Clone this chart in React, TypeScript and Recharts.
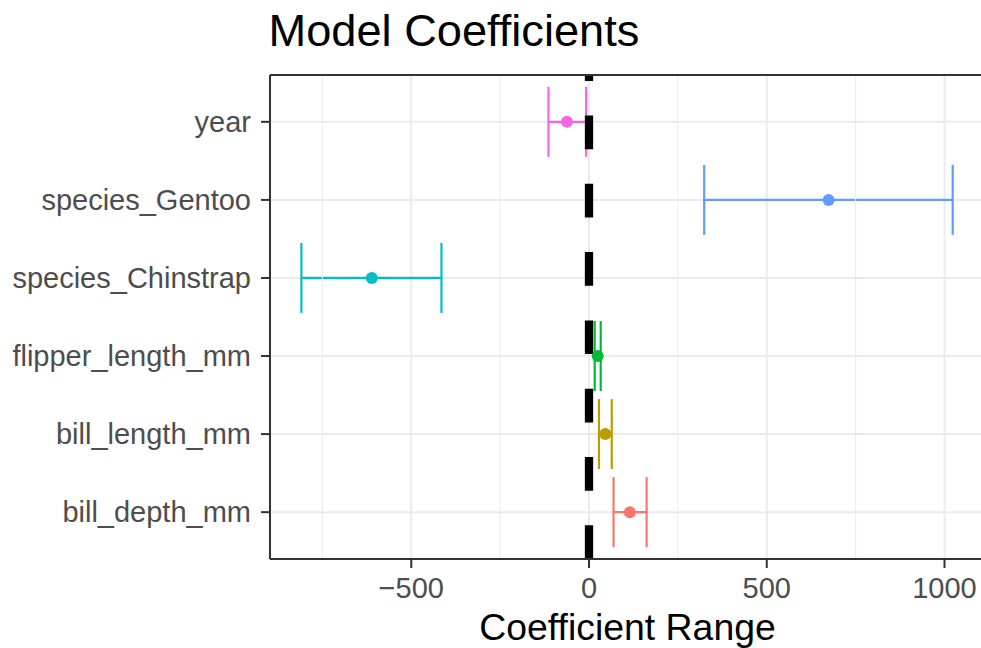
import React from 'react';
import {
  ComposedChart,
  XAxis,
  YAxis,
  CartesianGrid,
  Scatter,
  Bar,
  ReferenceLine,
  Label,
} from 'recharts';

// ---- data ----
const TERMS = [
  'year',
  'species_Gentoo',
  'species_Chinstrap',
  'flipper_length_mm',
  'bill_length_mm',
  'bill_depth_mm',
];
const ESTIMATES = [-62, 674, -611, 24.5, 46, 115];
const LOWER = [-114, 324, -809, 16, 28, 69];
const UPPER = [-8, 1023, -415, 33, 64, 162];
const X_TICKS = [-500, 0, 500, 1000];
const X_MINOR = [-750, -250, 250, 750];
const X_DOMAIN = [-897.3, 1113.9];

// ---- styles ----
const COLORS: Record<string, string> = {
  year: '#F564E3',
  species_Gentoo: '#619CFF',
  species_Chinstrap: '#00BFC4',
  flipper_length_mm: '#00BA38',
  bill_length_mm: '#B79F00',
  bill_depth_mm: '#F8766D',
};
const FONT = '"Liberation Sans", Arial, Helvetica, sans-serif';

const rows = TERMS.map((term, i) => ({
  term,
  est: ESTIMATES[i],
  lower: LOWER[i],
  upper: UPPER[i],
}));

const ErrorShape = (props: any) => {
  const { x, y, width, height, payload } = props;
  if (x == null || y == null || !payload) return null;
  const c = COLORS[payload.term];
  const x1 = x;
  const x2 = x + width;
  const ym = y + height / 2;
  return (
    <g stroke={c} strokeWidth={2.2} fill="none">
      <line x1={x1} x2={x2} y1={ym} y2={ym} />
      <line x1={x1} x2={x1} y1={y} y2={y + height} />
      <line x1={x2} x2={x2} y1={y} y2={y + height} />
    </g>
  );
};

const PointShape = (props: any) => {
  const { cx, cy, payload } = props;
  if (cx == null || cy == null || !payload) return null;
  return <circle cx={cx} cy={cy} r={6} fill={COLORS[payload.term]} />;
};

const fmtTick = (v: number) => String(v).replace('-', '\u2212');

export default function App() {
  const tickStyle = { fontSize: 29, fill: '#4D4D4D', fontFamily: FONT };
  return (
    <div
      style={{
        position: 'absolute',
        left: 0,
        top: 0,
        width: 981,
        height: 648,
        overflow: 'hidden',
        background: '#fff',
        fontFamily: FONT,
      }}
    >
      <ComposedChart
        width={990}
        height={648}
        data={rows}
        layout="vertical"
        margin={{ top: 73, right: 5, bottom: 0, left: 0 }}
        style={{ fontFamily: FONT }}
      >
        <CartesianGrid stroke="#EBEBEB" strokeWidth={2} />
        {X_MINOR.map((v) => (
          <ReferenceLine key={v} x={v} stroke="#EBEBEB" strokeWidth={1} />
        ))}
        <XAxis
          type="number"
          domain={X_DOMAIN}
          ticks={X_TICKS}
          allowDataOverflow
          height={89}
          tickSize={9}
          tickMargin={9}
          tick={tickStyle}
          tickFormatter={fmtTick}
          tickLine={{ stroke: '#333333', strokeWidth: 2 }}
          axisLine={{ stroke: '#333333', strokeWidth: 2 }}
        >
          <Label
            value="Coefficient Range"
            position="insideBottom"
            offset={8}
            style={{ fontSize: 37.4, fill: '#000', fontFamily: FONT }}
          />
        </XAxis>
        <XAxis
          xAxisId="top"
          orientation="top"
          type="number"
          domain={X_DOMAIN}
          allowDataOverflow
          height={2}
          tick={false}
          tickLine={false}
          axisLine={{ stroke: '#333333', strokeWidth: 2 }}
        />
        <YAxis
          type="category"
          dataKey="term"
          width={270}
          interval={0}
          padding={{ top: 7.8, bottom: 7.8 }}
          tickSize={9}
          tickMargin={10}
          tick={tickStyle}
          tickLine={{ stroke: '#333333', strokeWidth: 2 }}
          axisLine={{ stroke: '#333333', strokeWidth: 2 }}
        />
        <Bar
          dataKey={(d: any) => [d.lower, d.upper]}
          barSize={70}
          shape={ErrorShape}
          isAnimationActive={false}
        />
        <Scatter dataKey="est" shape={PointShape} isAnimationActive={false} />
        <ReferenceLine
          x={0}
          stroke="#000"
          strokeWidth={8.3}
          strokeDasharray="33.7 34.6"
        />
      </ComposedChart>
      <svg
        width={981}
        height={648}
        style={{ position: 'absolute', left: 0, top: 0, pointerEvents: 'none' }}
      >
        <text x={268.5} y={46} fontSize={45.2} fontFamily={FONT} fill="#000">
          Model Coefficients
        </text>
      </svg>
    </div>
  );
}
